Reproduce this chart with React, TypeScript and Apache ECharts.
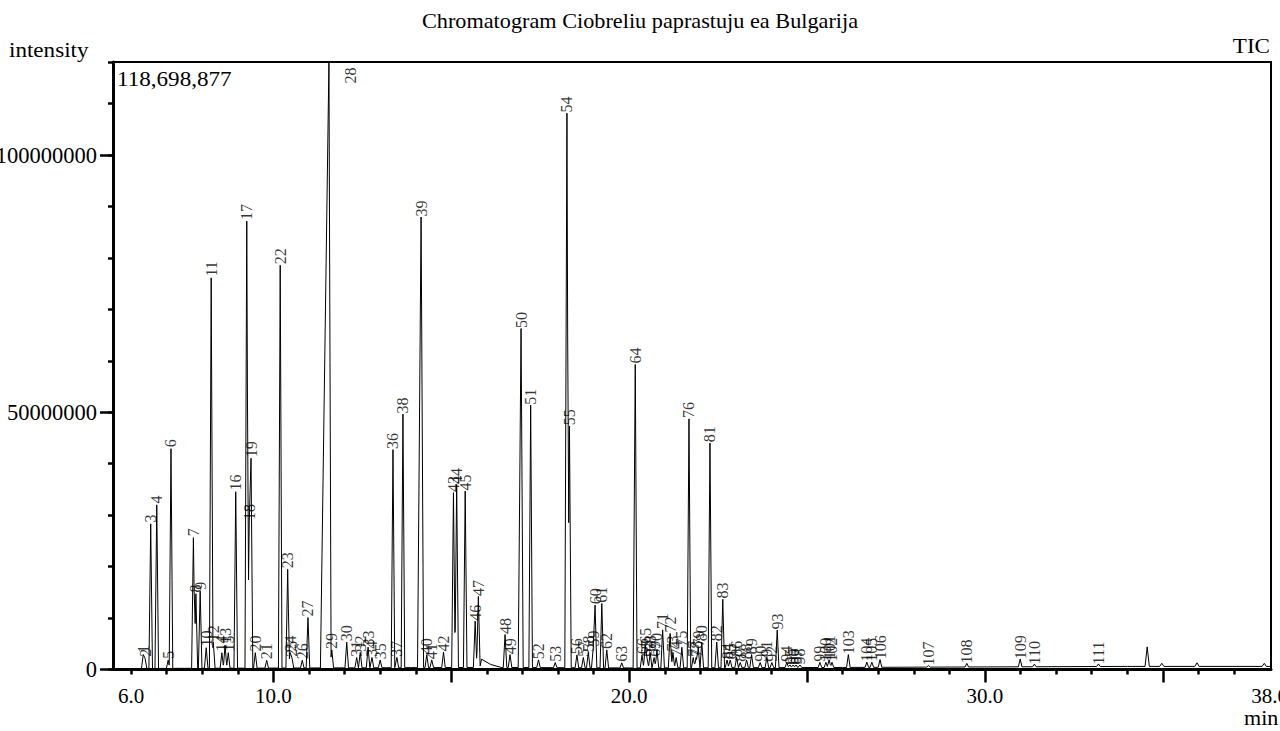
import React, { useEffect, useRef } from 'react';
import * as echarts from 'echarts';

// ---- data ----
const peakLabels = [
  '1','2','3','4','5','6','7','8','9','10','11','12','13','14','15','16','17','18','19','20',
  '21','22','23','24','25','26','27','28','29','30','31','32','33','34','35','36','37','38','39','40',
  '41','42','43','44','45','46','47','48','49','50','51','52','53','54','55','56','57','58','59','60',
  '61','62','63','64','65','66','67','68','69','70','71','72','73','74','75','76','77','78','79','80',
  '81','82','83','84','85','86','87','88','89','90','91','92','93','94','95','96','97','98','99','100',
  '101','102','103','104','105','106','107','108','109','110','111'
];
// retention time (min)
const peakTimes = [
  6.34, 6.39, 6.55, 6.72, 7.04, 7.12, 7.75, 7.82, 7.94, 8.11, 8.25, 8.31, 8.64, 8.55, 8.73, 8.94, 9.25, 9.32, 9.37, 9.49,
  9.81, 10.19, 10.40, 10.47, 10.52, 10.81, 10.97, 11.56, 11.64, 12.06, 12.34, 12.44, 12.66, 12.77, 13.00, 13.36, 13.47, 13.64, 14.15, 14.31,
  14.45, 14.78, 15.06, 15.15, 15.39, 15.67, 15.76, 16.51, 16.65, 16.96, 17.23, 17.45, 17.92, 18.25, 18.32, 18.53, 18.71, 18.85, 18.99, 19.04,
  19.23, 19.37, 19.79, 20.17, 20.45, 20.36, 20.50, 20.59, 20.70, 20.78, 20.94, 21.15, 21.23, 21.32, 21.48, 21.68, 21.80, 21.88, 21.94, 22.04,
  22.27, 22.46, 22.63, 22.75, 22.84, 23.02, 23.12, 23.30, 23.44, 23.68, 23.87, 24.01, 24.16, 24.43, 24.52, 24.61, 24.69, 24.80, 25.36, 25.53,
  25.62, 25.70, 26.16, 26.68, 26.82, 27.05, 28.41, 29.49, 30.99, 31.39, 33.19
];
// peak intensity (millions of counts)
const peakHeightsM = [
  2.7, 2.0, 28.1, 31.8, 1.6, 42.7, 25.4, 14.5, 15.0, 4.0, 75.9, 5.0, 4.5, 3.0, 3.0, 34.3, 86.9, 28.6, 40.8, 3.0,
  1.5, 78.3, 19.2, 3.0, 2.0, 1.5, 9.8, 118.7, 3.5, 5.0, 2.0, 3.0, 4.0, 2.0, 1.5, 42.4, 2.0, 49.3, 87.6, 2.5,
  1.5, 3.0, 34.0, 35.6, 34.3, 9.0, 13.8, 6.4, 2.5, 65.9, 51.0, 1.5, 1.0, 107.8, 47.0, 2.5, 2.0, 3.0, 4.0, 12.2,
  12.5, 3.5, 1.0, 59.0, 4.5, 2.5, 2.0, 3.0, 2.0, 3.5, 7.4, 6.7, 3.0, 2.0, 4.0, 48.4, 2.0, 2.0, 4.0, 5.0,
  43.7, 5.0, 13.3, 1.5, 1.5, 2.0, 1.0, 1.5, 2.5, 1.0, 2.0, 1.0, 7.3, 1.0, 0.5, 0.5, 0.5, 0.5, 1.0, 1.0,
  1.5, 1.0, 2.5, 1.0, 1.0, 1.5, 0.3, 0.7, 1.5, 0.5, 0.5
];
// unlabelled peaks
const extraTimes = [34.56, 34.97, 35.96, 37.85];
const extraHeightsM = [3.8, 0.6, 0.7, 0.6];
// baseline (min, millions)
const baseTimes = [5.49, 6.3, 15.8, 15.85, 16.1, 16.4, 20.0, 26.0, 30.0, 34.0, 38.04];
const baseValuesM = [0.1, 0.2, 0.4, 2.0, 1.0, 0.4, 0.3, 0.4, 0.5, 0.6, 0.6];

const titleText = 'Chromatogram Ciobreliu paprastuju ea Bulgarija';
const maxText = '118,698,877';
const xLabelValues = [6, 10, 20, 30, 38];
const xMajorTicks = [10, 15, 20, 25, 30, 35];
const xMinorTicks = [6,7,8,9,11,12,13,14,16,17,18,19,21,22,23,24,26,27,28,29,31,32,33,34,36,37];

const X_MIN = 5.49;
const X_MAX = 38.04;
const Y_MAX = 118.1e6;
const M = 1e6;
const HALF_W = 0.05;
const widthOverride: Record<string, [number, number]> = {
  '28': [0.24, 0.06],
  '39': [0.1, 0.07],
  '50': [0.08, 0.06],
  '54': [0.06, 0.05],
  '64': [0.06, 0.05],
};
const FONT = '"Liberation Serif", "Times New Roman", serif';

function buildLine(): [number, number][] {
  const peaks: { t: number; h: number; l: number; r: number }[] = [];
  peakTimes.forEach((t, i) => {
    const w = widthOverride[peakLabels[i]] || [HALF_W, HALF_W];
    peaks.push({ t, h: peakHeightsM[i] * M, l: w[0], r: w[1] });
  });
  extraTimes.forEach((t, i) => {
    peaks.push({ t, h: extraHeightsM[i] * M, l: 0.06, r: 0.06 });
  });
  const base = (x: number) => {
    for (let i = 0; i < baseTimes.length - 1; i++) {
      if (x >= baseTimes[i] && x <= baseTimes[i + 1]) {
        const f = (x - baseTimes[i]) / (baseTimes[i + 1] - baseTimes[i]);
        return (baseValuesM[i] + f * (baseValuesM[i + 1] - baseValuesM[i])) * M;
      }
    }
    return baseValuesM[baseValuesM.length - 1] * M;
  };
  const xs = new Set<number>();
  baseTimes.forEach((t) => xs.add(t));
  peaks.forEach((p) => {
    xs.add(+(p.t - p.l).toFixed(4));
    xs.add(p.t);
    xs.add(+(p.t + p.r).toFixed(4));
  });
  const sorted = Array.from(xs).sort((a, b) => a - b);
  return sorted.map((x) => {
    let m = 0;
    for (const p of peaks) {
      let v = 0;
      if (x === p.t) v = p.h;
      else if (x < p.t && x > p.t - p.l) v = p.h * (1 - (p.t - x) / p.l);
      else if (x > p.t && x < p.t + p.r) v = p.h * (1 - (x - p.t) / p.r);
      if (v > m) m = v;
    }
    const b = base(x);
    return [x, Math.min(Y_MAX, Math.max(m, b + m))] as [number, number];
  });
}

export default function App() {
  const ref = useRef<HTMLDivElement>(null);
  useEffect(() => {
    if (!ref.current) return;
    const chart = echarts.init(ref.current, null, { renderer: 'svg' });
    const lineData = buildLine();
    const labelData = peakTimes.map((t, i) => {
      const item: any = { name: peakLabels[i], value: [t, Math.min(Y_MAX, peakHeightsM[i] * M)] };
      if (peakLabels[i] === '28') item.label = { offset: [-24, 22] };
      return item;
    });
    const txt = (x: number, y: number, text: string, align: string, sx: number) => ({
      type: 'text', x, y, scaleX: sx,
      style: { text, font: `21px ${FONT}`, fill: '#000', align, verticalAlign: 'middle' },
    });
    chart.setOption({
      animation: false,
      backgroundColor: '#fff',
      grid: {
        left: 113, right: 9, top: 62, bottom: 61.5,
        containLabel: false, outerBoundsMode: 'none',
        show: true, borderColor: '#000', borderWidth: 2, backgroundColor: 'transparent',
      },
      xAxis: [
        {
          type: 'value', min: X_MIN, max: X_MAX, position: 'bottom',
          splitLine: { show: false },
          axisLine: { show: true, onZero: false, lineStyle: { color: '#000', width: 3 } },
          axisTick: { show: true, customValues: xMajorTicks, length: 13, lineStyle: { color: '#000', width: 2.5 } },
          axisLabel: {
            show: true, customValues: xLabelValues, formatter: (v: number) => v.toFixed(1),
            fontFamily: FONT, fontSize: 21, color: '#000', margin: 16, hideOverlap: false,
          },
        },
        {
          type: 'value', min: X_MIN, max: X_MAX, position: 'bottom',
          splitLine: { show: false },
          axisLine: { show: false },
          axisTick: { show: true, customValues: xMinorTicks, length: 5, lineStyle: { color: '#000', width: 2.5 } },
          axisLabel: { show: false },
        },
      ],
      yAxis: [
        {
          type: 'value', min: 0, max: Y_MAX, interval: 50e6, position: 'left',
          splitLine: { show: false },
          axisLine: { show: true, onZero: false, lineStyle: { color: '#000', width: 3 } },
          axisTick: { show: true, length: 13, lineStyle: { color: '#000', width: 2.5 } },
          axisLabel: {
            show: true, formatter: (v: number) => String(v), showMaxLabel: false,
            fontFamily: FONT, fontSize: 22.5, color: '#000', margin: 16,
          },
        },
        {
          type: 'value', min: 0, max: Y_MAX, interval: 10e6, position: 'left',
          splitLine: { show: false },
          axisLine: { show: false },
          axisTick: { show: true, length: 5, lineStyle: { color: '#000', width: 2.5 } },
          axisLabel: { show: false },
        },
      ],
      series: [
        {
          type: 'line', xAxisIndex: 0, yAxisIndex: 0, data: lineData,
          showSymbol: false, symbol: 'none', silent: true,
          lineStyle: { color: '#000', width: 1 },
          z: 3,
        },
        {
          type: 'scatter', xAxisIndex: 0, yAxisIndex: 0, data: labelData,
          symbol: 'circle', symbolSize: 1, itemStyle: { color: 'rgba(0,0,0,0)' },
          silent: true, clip: false, z: 4,
          label: {
            show: true, formatter: '{b}', position: 'top', distance: 2, rotate: 90,
            align: 'left', verticalAlign: 'middle',
            fontFamily: FONT, fontSize: 16, color: '#000',
          },
        },
      ],
      graphic: [
        txt(640, 21, titleText, 'center', 1.06),
        txt(9, 50, 'intensity', 'left', 1.1),
        txt(1270, 46, 'TIC', 'right', 1.1),
        txt(117, 79, maxText, 'left', 1.1),
        txt(1244, 718, 'min', 'left', 1.05),
      ],
    });
    return () => chart.dispose();
  }, []);
  return (
    <div
      ref={ref}
      style={{ position: 'absolute', left: 0, top: 0, width: 1280, height: 731 }}
    />
  );
}
